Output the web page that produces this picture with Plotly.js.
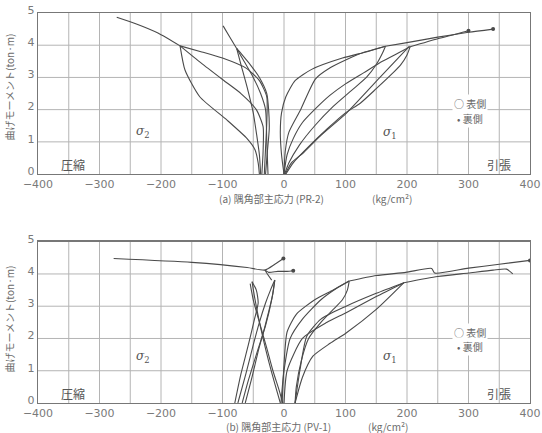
<!DOCTYPE html>
<html><head><meta charset="utf-8">
<script src="https://cdn.plot.ly/plotly-3.0.1.min.js"></script>
<style>html,body{margin:0;padding:0;background:#fff}#c{width:542px;height:433px}</style>
</head><body><div id="c"></div>
<script>
// ---------- (a) PR-2 : tension side (sigma1) ----------
const a_t1_x = [0,-4,-6,-4,3,18,45,95,135,165];
const a_t1_y = [0,0.6,1.3,1.9,2.4,2.9,3.25,3.6,3.8,3.97];
const a_t2_x = [165,160,150,134,110,80,50,25,8,1];
const a_t2_y = [3.97,3.75,3.4,3.0,2.6,2.1,1.5,0.9,0.35,0];
const a_t3_x = [0,2,8,27,51,75,102,130,165];
const a_t3_y = [0,0.7,1.3,2.0,2.95,3.3,3.56,3.78,3.97];
const a_t4_x = [0,5,15,30,55,75,100,130,160,185,205];
const a_t4_y = [0,0.6,1.1,1.6,2.1,2.45,2.8,3.15,3.5,3.75,3.95];
const a_t5_x = [205,200,190,175,150,124,100,70,40,15,3];
const a_t5_y = [3.95,3.7,3.4,3.1,2.65,2.2,1.9,1.4,0.85,0.35,0];
const a_t6_x = [2,12,32,60,102,156,204];
const a_t6_y = [0,0.35,0.67,1.2,1.9,3.0,3.97];
const a_f1_x = [165,200,250,300,340];
const a_f1_y = [3.97,4.08,4.25,4.4,4.5];
const a_f2_x = [205,250,300];
const a_f2_y = [3.95,4.2,4.45];
// ---------- (a) PR-2 : compression side (sigma2) ----------
const a_c1_x = [-40,-42,-47,-60,-93,-137,-161,-169];
const a_c1_y = [0,0.35,0.75,1.1,1.68,2.4,3.23,3.98];
const a_c2_x = [-32,-30,-28,-28,-40,-61,-100,-135,-169];
const a_c2_y = [0,0.8,1.6,2.4,2.9,3.28,3.6,3.8,3.98];
const a_c3_x = [-36,-34,-34,-45,-70,-99,-135,-169];
const a_c3_y = [0,0.7,1.47,2.0,2.5,2.92,3.45,3.98];
const a_c4_x = [-169,-205,-240,-272];
const a_c4_y = [3.98,4.38,4.66,4.87];
const a_c5_x = [-30,-27,-24,-25,-28,-40,-55,-68,-77];
const a_c5_y = [0,0.7,1.4,2.0,2.5,3.0,3.4,3.7,3.9];
const a_c6_x = [-77,-70,-60,-50,-44,-40,-38];
const a_c6_y = [3.9,3.4,2.7,1.9,1.16,0.6,0];
const a_c7_x = [-77,-88,-99];
const a_c7_y = [3.9,4.25,4.6];
const a_c8_x = [-77,-65,-50,-38,-30,-28,-26];
const a_c8_y = [3.9,3.5,3.0,2.5,2.0,1.0,0];
// ---------- (b) PV-1 : compression side ----------
const b_c1_x = [-80,-70,-58,-48,-42,-45,-52];
const b_c1_y = [0,0.9,1.8,2.6,3.1,3.5,3.76];
const b_c2_x = [-75,-62,-50,-40,-30,-22,-15];
const b_c2_y = [0,0.9,1.8,2.5,3.1,3.5,3.81];
const b_c3_x = [-63,-52,-42,-32,-24,-18,-15];
const b_c3_y = [0,0.8,1.6,2.3,2.9,3.4,3.81];
const b_c4_x = [-52,-48,-42,-34,-25,-15,-6];
const b_c4_y = [3.76,3.3,2.7,2.0,1.3,0.6,0];
const b_c5_x = [-55,-50,-40,-28,-18,-8,-2];
const b_c5_y = [3.7,3.2,2.5,1.7,1.0,0.4,0];
const b_c6_x = [-15,-20,-30,-45,-58,-68];
const b_c6_y = [3.81,3.2,2.4,1.5,0.7,0];
const b_f1_x = [-277,-150,-60,-31,-15,-1];
const b_f1_y = [4.48,4.36,4.2,4.12,4.3,4.48];
const b_f2_x = [-20,-31,-25,-10,5,15];
const b_f2_y = [3.81,4.12,4.05,4.08,4.08,4.1];
// ---------- (b) PV-1 : tension side ----------
const b_t1_x = [-5,0,10,30,60,85,106];
const b_t1_y = [0,1.0,2.0,2.6,3.2,3.55,3.78];
const b_t2_x = [-3,0,5,20,50,80,106];
const b_t2_y = [0,1.2,2.2,2.75,3.2,3.5,3.78];
const b_t3_x = [106,103,95,80,60,40,28,20,18];
const b_t3_y = [3.78,3.5,3.2,2.9,2.5,2.0,1.3,0.5,0];
const b_t4_x = [18,26,37,60,101,150,195];
const b_t4_y = [0,1.03,2.07,2.6,3.0,3.4,3.73];
const b_t5_x = [18,30,47,75,101,150,195];
const b_t5_y = [0,0.8,1.45,1.85,2.17,2.9,3.73];
const b_t6_x = [0,5,30,70,101,150,195];
const b_t6_y = [0,1.0,2.0,2.5,2.8,3.3,3.73];
const b_f3_x = [106,150,198,240,245,300,350,400];
const b_f3_y = [3.78,3.95,4.05,4.17,4.03,4.18,4.3,4.42];
const b_f4_x = [195,250,300,340,362,372];
const b_f4_y = [3.73,3.92,4.03,4.12,4.15,4.0];
// end markers
const a_mk_x = [300,340];
const a_mk_y = [4.45,4.5];
const b_mk_x = [-1,15,400];
const b_mk_y = [4.48,4.1,4.42];

const xTicks = [-400,-300,-200,-100,0,100,200,300,400];
const xGrid = [-350,-300,-250,-200,-150,-100,-50,0,50,100,150,200,250,300,350];
const yTicks = [0,1,2,3,4,5];
const yGrid = [1,2,3,4];
const yTitle = '曲げモーメント(ton·m)';
const xTitleA = '(a) 隅角部主応力 (PR-2)';
const xTitleB = '(b) 隅角部主応力 (PV-1)';
const unitTxt = '(kg/cm²)';
const legFront = '○ 表側';
const legBack = '• 裏側';

const LC = '#4a4a4a';
const GC = '#b4b4b4';
const traces = [];
const A = ['x','y'], B = ['x2','y2'];
// grid drawn as line traces through the axes' own scales
function addGrid(ax){
  const gx = [], gy = [];
  xGrid.forEach(v=>{ gx.push(v,v,null); gy.push(0,5,null); });
  yGrid.forEach(v=>{ gx.push(-400,400,null); gy.push(v,v,null); });
  traces.push({x:gx, y:gy, type:'scatter', mode:'lines', xaxis:ax[0], yaxis:ax[1],
    line:{color:GC, width:1}, hoverinfo:'skip', showlegend:false, connectgaps:false});
}
addGrid(A); addGrid(B);
function addLine(x, y, ax){
  traces.push({x:x, y:y, type:'scatter', mode:'lines', xaxis:ax[0], yaxis:ax[1],
    line:{color:LC, width:1.1, shape:'spline', smoothing:0.6}, hoverinfo:'skip', showlegend:false});
}
[[a_t1_x,a_t1_y],[a_t2_x,a_t2_y],[a_t3_x,a_t3_y],[a_t4_x,a_t4_y],[a_t5_x,a_t5_y],[a_t6_x,a_t6_y],
 [a_f1_x,a_f1_y],[a_f2_x,a_f2_y],[a_c1_x,a_c1_y],[a_c2_x,a_c2_y],[a_c3_x,a_c3_y],[a_c4_x,a_c4_y],
 [a_c5_x,a_c5_y],[a_c6_x,a_c6_y],[a_c7_x,a_c7_y],[a_c8_x,a_c8_y]].forEach(p=>addLine(p[0],p[1],A));
[[b_c1_x,b_c1_y],[b_c2_x,b_c2_y],[b_c3_x,b_c3_y],[b_c4_x,b_c4_y],[b_c5_x,b_c5_y],[b_c6_x,b_c6_y],
 [b_f1_x,b_f1_y],[b_f2_x,b_f2_y],[b_t1_x,b_t1_y],[b_t2_x,b_t2_y],[b_t3_x,b_t3_y],[b_t4_x,b_t4_y],
 [b_t5_x,b_t5_y],[b_t6_x,b_t6_y],[b_f3_x,b_f3_y],[b_f4_x,b_f4_y]].forEach(p=>addLine(p[0],p[1],B));
traces.push({x:a_mk_x, y:a_mk_y, type:'scatter', mode:'markers', xaxis:'x', yaxis:'y',
  marker:{size:4, color:LC}, hoverinfo:'skip', showlegend:false});
traces.push({x:b_mk_x, y:b_mk_y, type:'scatter', mode:'markers', xaxis:'x2', yaxis:'y2',
  marker:{size:4, color:LC}, hoverinfo:'skip', showlegend:false});

const tickF = {family:'DejaVu Sans', size:11, color:'#7a7a7a'};
function xax(anchor){
  return {range:[-400,400], domain:[0,1], anchor:anchor, tickmode:'array', tickvals:xTicks,
    showgrid:false, showline:true, mirror:true, linecolor:'#777', linewidth:1.2, zeroline:false, ticks:'',
    tickfont:tickF, fixedrange:true};
}
function yax(anchor, dom){
  return {range:[0,5], domain:dom, anchor:anchor, tickmode:'array', tickvals:yTicks,
    showgrid:false, showline:true, mirror:true, linecolor:'#777', linewidth:1.2, zeroline:false, ticks:'',
    tickfont:tickF, ticklabelshift:-3, fixedrange:true};
}
const txtF = {family:'Noto Sans CJK JP', size:10, color:'#6a6a6a'};
const ann = [];
function dAnn(text, x, y, ax, extra){
  ann.push(Object.assign({text:text, x:x, y:y, xref:ax[0], yref:ax[1], showarrow:false,
    xanchor:'center', yanchor:'middle', font:txtF}, extra||{}));
}
function pAnn(text, x, y, extra){
  ann.push(Object.assign({text:text, x:x, y:y, xref:'paper', yref:'paper', showarrow:false,
    xanchor:'center', yanchor:'middle', font:txtF}, extra||{}));
}
pAnn(yTitle, -0.058, 0.81, {textangle:-90});
pAnn(yTitle, -0.058, 0.215, {textangle:-90});
pAnn(xTitleA, 0.474, 0.525);
pAnn(unitTxt, 0.72, 0.525);
pAnn(xTitleB, 0.488, -0.061);
pAnn(unitTxt, 0.711, -0.061);
const sigF = {family:'DejaVu Serif', size:12, color:'#555'};
const cjk12 = {family:'Noto Sans CJK JP', size:12, color:'#555'};
const cjk10 = {family:'Noto Sans CJK JP', size:10, color:'#666'};
[[A,1.3,1.26],[B,1.43,1.43]].forEach(s=>{
  dAnn('<i>σ</i><sub>2</sub>', -229, s[1], s[0], {font:sigF});
  dAnn('<i>σ</i><sub>1</sub>', 172, s[2], s[0], {font:sigF});
  dAnn('圧縮', -343, 0.3, s[0], {font:cjk12});
  dAnn('引張', 350, 0.3, s[0], {font:cjk12});
  dAnn(legFront, 302, 2.2, s[0], {bgcolor:'#fff', font:cjk10});
  dAnn(legBack, 302, 1.74, s[0], {bgcolor:'#fff', font:cjk10});
});

const layout = {
  width:542, height:433, margin:{l:38, r:12, t:13, b:30},
  paper_bgcolor:'#fff', plot_bgcolor:'#fff', showlegend:false,
  xaxis:xax('y'), yaxis:yax('x',[0.587,1]),
  xaxis2:xax('y2'), yaxis2:yax('x2',[0,0.4136]),
  annotations:ann
};
Plotly.newPlot('c', traces, layout, {staticPlot:true, displayModeBar:false});
</script></body></html>
